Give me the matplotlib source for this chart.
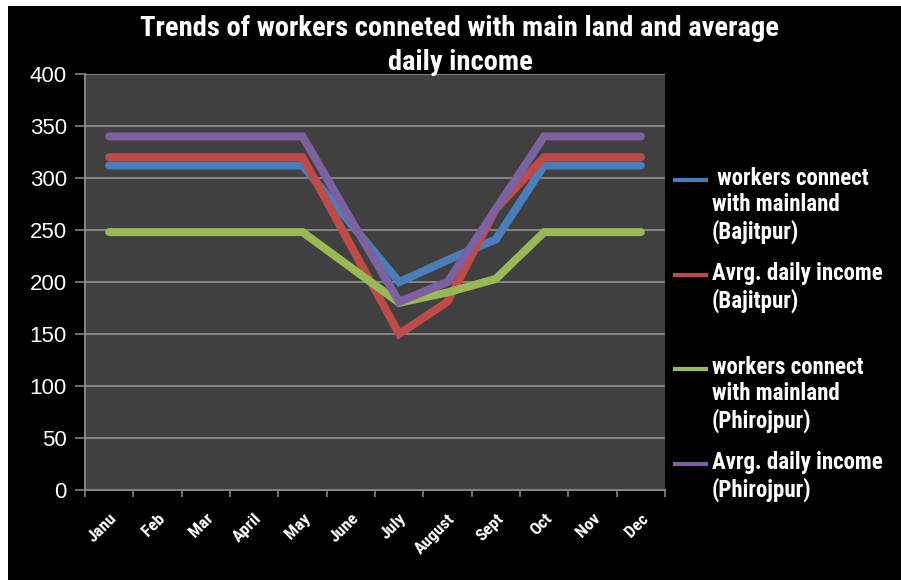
import matplotlib
matplotlib.use("Agg")
import matplotlib.pyplot as plt
from matplotlib import font_manager
from matplotlib.lines import Line2D
from matplotlib.patches import Rectangle

months = ["Janu", "Feb", "Mar", "April", "May", "June", "July",
          "August", "Sept", "Oct", "Nov", "Dec"]

workers_bajitpur = [312, 312, 312, 312, 312, 256, 200, 221, 241, 312, 312, 312]
income_bajitpur = [320, 320, 320, 320, 320, 235, 150, 181, 270, 320, 320, 320]
workers_phirojpur = [248, 248, 248, 248, 248, 214, 180, 190, 203, 248, 248, 248]
income_phirojpur = [340, 340, 340, 340, 340, 260, 181, 200, 270, 340, 340, 340]

series_labels = [" workers connect\nwith mainland\n(Bajitpur)",
                 "Avrg. daily income\n(Bajitpur)",
                 "workers connect\nwith mainland\n(Phirojpur)",
                 "Avrg. daily income\n(Phirojpur)"]
colors = ["#4A7EBB", "#BE4B48", "#98B954", "#7D60A0"]

installed = {f.name for f in font_manager.fontManager.ttflist}
narrow = [f for f in ["Liberation Sans Narrow", "Roboto Condensed", "Open Sans Condensed"]
          if f in installed]
FAM = narrow + ["Liberation Sans", "DejaVu Sans"]
PLAIN = ["Liberation Sans", "DejaVu Sans"]

W, H = 901, 580
fig = plt.figure(figsize=(W / 100, H / 100), dpi=100, facecolor="white")
# black chart area, with thin white strip on the left and top
fig.patches.append(Rectangle((8 / W, 0), 1, 1 - 6 / H, transform=fig.transFigure,
                             facecolor="black", edgecolor="none", zorder=-10))

ax = fig.add_axes([85 / W, 1 - 490 / H, (665 - 85) / W, (490 - 74) / H])
ax.set_facecolor("#404040")

x = range(len(months))
for vals, c in zip([workers_bajitpur, income_bajitpur, workers_phirojpur, income_phirojpur],
                   colors):
    ax.plot(x, vals, color=c, lw=5.8, solid_capstyle="round",
            solid_joinstyle="miter", zorder=3)

ax.set_xlim(-0.5, len(months) - 0.5)
ax.set_ylim(0, 400)
ax.set_yticks(range(0, 401, 50))
ax.set_yticklabels([str(v) for v in range(0, 401, 50)], color="white",
                   fontsize=16, family=PLAIN)
ax.yaxis.grid(True, color="#858585", lw=1.4)
ax.set_axisbelow(True)

ax.set_xticks(list(x))
ax.set_xticklabels(months, rotation=45, ha="right", rotation_mode="anchor",
                   color="white", fontsize=12.5, fontweight="bold", family=FAM)
ax.set_xticks([i - 0.5 for i in range(len(months) + 1)], minor=True)
ax.tick_params(axis="x", which="major", length=0, pad=15)
ax.tick_params(axis="x", which="minor", length=5, color="#858585", width=1.2)
ax.tick_params(axis="y", length=7, color="#858585", width=1.2, pad=6)

for s in ["top", "right"]:
    ax.spines[s].set_visible(False)
for s in ["left", "bottom"]:
    ax.spines[s].set_color("#858585")
    ax.spines[s].set_linewidth(1.4)

fig.text(460 / W, 1 - 28 / H, "Trends of workers conneted with main land and average",
         ha="center", va="center", color="white", fontsize=20.5, fontweight="bold",
         family=FAM)
fig.text(460 / W, 1 - 62 / H, "daily income", ha="center", va="center", color="white",
         fontsize=20.5, fontweight="bold", family=FAM)

# legend drawn by hand so each key sits on the first text line
legend_y = [180, 275, 369, 464]
for yy, c, lab in zip(legend_y, colors, series_labels):
    fig.add_artist(Line2D([675 / W, 706 / W], [1 - yy / H, 1 - yy / H],
                          transform=fig.transFigure, color=c, lw=3))
    fig.text(712 / W, 1 - (yy - 13) / H, lab, ha="left", va="top", color="white",
             fontsize=16.5, fontweight="bold", family=FAM, linespacing=1.17)

fig.savefig("out.png", dpi=100, facecolor="white")
